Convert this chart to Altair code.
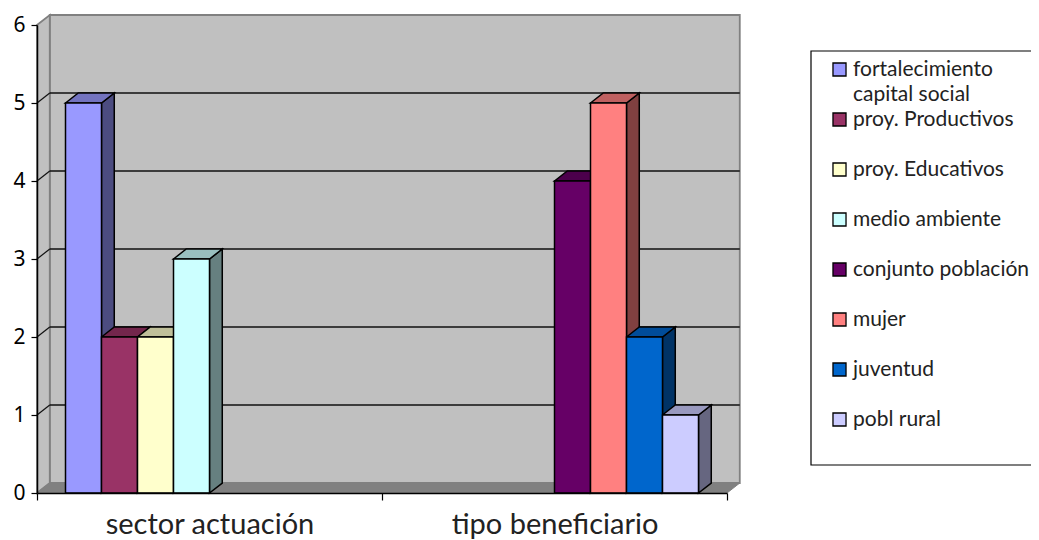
import altair as alt
import pandas as pd

# ---- chart values ----
categories = ["sector actuación", "tipo beneficiario"]
series = ["fortalecimiento capital social", "proy. Productivos", "proy. Educativos",
          "medio ambiente", "conjunto población", "mujer", "juventud", "pobl rural"]
series_cat = [0, 0, 0, 0, 1, 1, 1, 1]
series_pos = [0, 1, 2, 3, 4, 5, 6, 7]
values = [5, 2, 2, 3, 4, 5, 2, 1]
colors = ["#9999FF", "#993366", "#FFFFCC", "#CCFFFF", "#660066", "#FF8080", "#0066CC", "#CCCCFF"]
y_ticks = [0, 1, 2, 3, 4, 5, 6]

# ---- layout (3-D look: in data units) ----
W, H = 1023, 532
FONT = "Lato"
DX, DY = 0.037, 0.128        # depth of wall / bar
BAR = 36 / 345
GAP = (1 - 8 * BAR) / 2

xs = alt.Scale(domain=[0, 2], range=[29, 719], nice=False, zero=False)
ys = alt.Scale(domain=[0, 6], range=[485, 17], nice=False, zero=False)

x_axis = alt.Axis(values=[0, 0.5, 1, 1.5, 2], offset=-47, grid=False, domainColor="black", domainWidth=1.5,
                  tickColor="black", tickWidth=1.2, tickSize=7,
                  tickOpacity=alt.condition("datum.value == 0 || datum.value == 1 || datum.value == 2",
                                            alt.value(1), alt.value(0)),
                  labelExpr=f"datum.value == 0.5 ? '{categories[0]}' : datum.value == 1.5 ? '{categories[1]}' : ''",
                  labelFont=FONT, labelFontSize=29, labelColor="#222222", labelPadding=10, labelAngle=0,
                  labelLimit=400, labelOverlap=False, labelFlush=False, labelBound=False, zindex=1)
y_axis = alt.Axis(values=y_ticks, offset=-29, grid=False, domainColor="black", domainWidth=1.5,
                  tickColor="black", tickWidth=1.2, tickSize=6, labelFont="Noto Sans", labelFontSize=21,
                  labelColor="black", labelPadding=6, format="d", zindex=1)


def X(f="x"):
    return alt.X(f"{f}:Q", scale=xs, axis=x_axis, title=None)


def Y(f="y"):
    return alt.Y(f"{f}:Q", scale=ys, axis=y_axis, title=None)


def shade(hexcol, k):
    r, g, b = [int(hexcol[i:i + 2], 16) for i in (1, 3, 5)]
    return "#%02X%02X%02X" % (round(r * k), round(g * k), round(b * k))


def poly(xv, upper, lower, fill, stroke="black", sw=1.5):
    df = pd.DataFrame({"x": xv, "y": upper, "y2": lower})
    return alt.Chart(df).mark_area(fill=fill, stroke=stroke, strokeWidth=sw, interpolate="linear",
                                   orient="vertical").encode(
        x=X(), y=Y(), y2="y2:Q")


layers = []

# legend frame
layers.append(alt.Chart(pd.DataFrame({"a": [0]})).mark_rect(fill="white", stroke="black", strokeWidth=1.2).encode(
    x=alt.value(803), x2=alt.value(1040), y=alt.value(43), y2=alt.value(457)))

# walls and floor
layers.append(poly([DX, 2 + DX], [6 + DY, 6 + DY], [DY, DY], "#C0C0C0", "#808080", 1.8))
layers.append(poly([0, DX], [6, 6 + DY], [0, DY], "#C0C0C0", "#808080", 1.8))
layers.append(poly([0, DX, 2, 2 + DX], [0, DY, DY, DY], [0, 0, 0, DY], "#808080", "#808080", 1))

# gridlines
grid = pd.DataFrame([{"v": v, "x": DX, "x2": 2 + DX, "y": v + DY} for v in y_ticks[1:-1]])
layers.append(alt.Chart(grid).mark_rule(color="#111111", strokeWidth=1.4).encode(x=X(), x2="x2:Q", y=Y()))
diag = pd.DataFrame([r for v in y_ticks[1:-1] for r in ({"v": v, "x": 0, "y": v}, {"v": v, "x": DX, "y": v + DY})])
layers.append(alt.Chart(diag).mark_line(color="#111111", strokeWidth=1.2).encode(x=X(), y=Y(), detail="v:N"))

# bar sides and tops
for p, cat, v, c in zip(series_pos, series_cat, values, colors):
    x0 = cat + GAP + p * BAR
    layers.append(poly([x0 + BAR, x0 + BAR + DX], [v, v + DY], [0, DY], shade(c, 0.5)))
    layers.append(poly([x0, x0 + DX, x0 + BAR, x0 + BAR + DX],
                       [v, v + DY, v + DY, v + DY], [v, v, v, v + DY], shade(c, 0.75)))

# bar fronts (carry the legend)
front = pd.DataFrame({
    "serie": series,
    "x": [cat + GAP + p * BAR for cat, p in zip(series_cat, series_pos)],
    "y": values,
})
front["x2"] = front["x"] + BAR
front["y0"] = 0

layers.append(alt.Chart(front).mark_rect(stroke="black", strokeWidth=1.5).encode(
    x=X(), x2="x2:Q", y=Y(), y2="y0:Q",
    color=alt.Color("serie:N", sort=series, scale=alt.Scale(domain=series, range=colors),
                    legend=alt.Legend(
                        orient="none", legendX=821, legendY=51, title=None, symbolType="square",
                        symbolSize=170, symbolStrokeColor="black", symbolStrokeWidth=1.3,
                        labelFont=FONT, labelFontSize=21, labelColor="#222222", labelLimit=400,
                        labelOffset=3, rowPadding=28, padding=0,
                        labelExpr=f"datum.label == '{series[0]}' ? 'fortalecimiento' : datum.label",
                        values=series))))

# second line of the first legend entry
layers.append(alt.Chart(pd.DataFrame({"a": [0]})).mark_text(
    font=FONT, fontSize=21, color="#222222", align="left", baseline="middle").encode(
    x=alt.value(845), y=alt.value(87), text=alt.value("capital social")))

chart = alt.layer(*layers).properties(
    width=W, height=H, padding=0, autosize=alt.AutoSizeParams(type="none"), background="white"
).configure_view(stroke=None)

chart.save("out.html", embed_options={"renderer": "svg", "actions": False})
